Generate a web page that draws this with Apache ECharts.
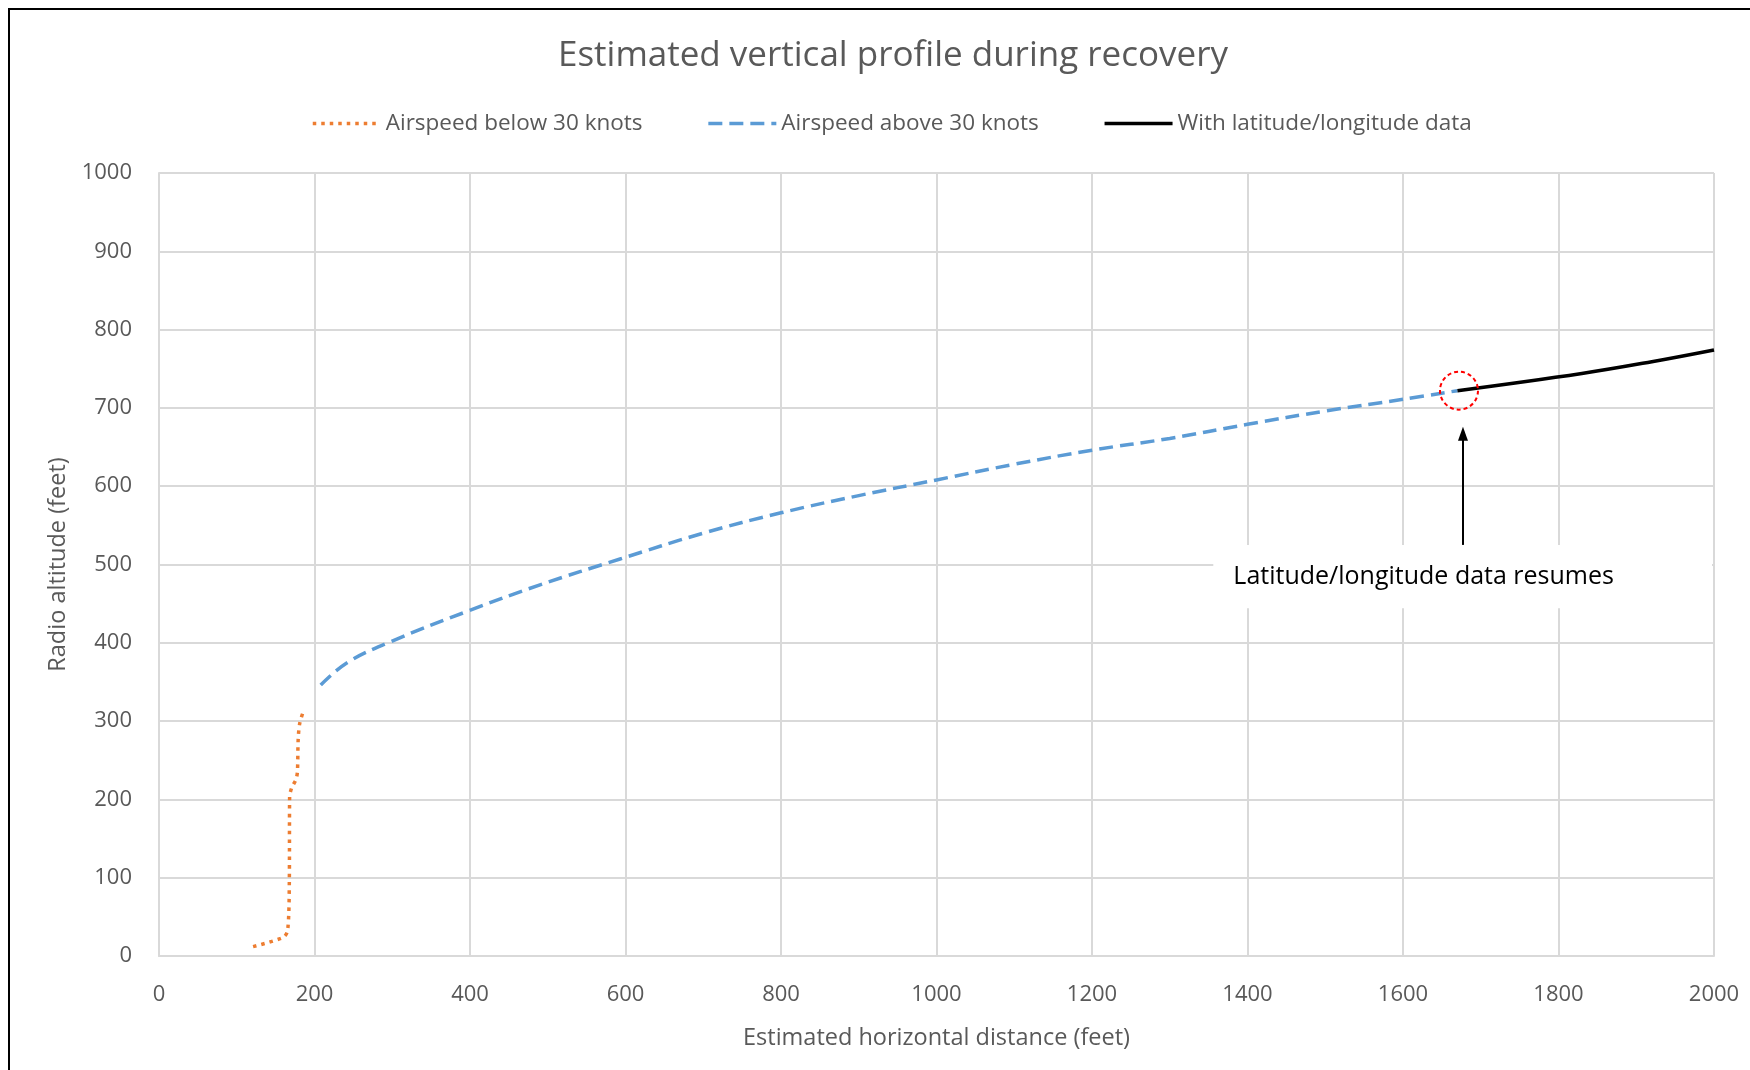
<!DOCTYPE html>
<html>
<head>
<meta charset="utf-8">
<script src="https://cdn.jsdelivr.net/npm/echarts@6/dist/echarts.min.js"></script>
<style>
  html, body { margin: 0; padding: 0; background: #fff; }
  #chart { width: 1750px; height: 1070px; }
</style>
</head>
<body>
<div id="chart"></div>
<script>
// 数据
var seriesNames = ['Airspeed below 30 knots', 'Airspeed above 30 knots', 'With latitude/longitude data'];
var slowPts = [[121, 12], [160, 24], [165.5, 33], [167.6, 93], [168, 203], [170.7, 215], [176, 225], [178, 235], [179, 276], [181, 297], [186.5, 315]];
var fastPts = [[208, 346], [241, 374], [297, 401], [396, 440], [490, 474], [593, 507], [700, 540], [800, 566], [900, 588], [1000, 608], [1100, 628], [1200, 646], [1300, 661], [1400, 679], [1500, 696], [1600, 711], [1670, 722]];
var gpsPts = [[1670, 722], [1830, 744], [1920, 759], [2000, 774]];
var resumePt = [1672, 722];
var noteText = 'Latitude/longitude data resumes';

var grey = '#595959';
var font = '"Open Sans", "Noto Sans", sans-serif';

var myChart = echarts.init(document.getElementById('chart'));

var option = {
    backgroundColor: '#fff',
    animation: false,
    title: {
        text: 'Estimated vertical profile during recovery',
        left: 888,
        textAlign: 'center',
        top: 34,
        textStyle: { fontFamily: font, fontSize: 35, fontWeight: 'normal', color: grey }
    },
    legend: {
        top: 107,
        left: 306,
        itemWidth: 68,
        itemHeight: 14,
        itemGap: 64,
        itemStyle: { opacity: 0 },
        lineStyle: { width: 3.5 },
        textStyle: { fontFamily: font, fontSize: 22.5, color: grey },
        data: seriesNames
    },
    grid: { left: 159, right: 36, top: 173, bottom: 114 },
    xAxis: {
        type: 'value',
        min: 0, max: 2000, interval: 200,
        name: 'Estimated horizontal distance (feet)',
        nameLocation: 'middle',
        nameGap: 70,
        nameTextStyle: { fontFamily: font, fontSize: 23.5, color: grey },
        axisLine: { show: true, lineStyle: { color: '#d9d9d9', width: 2 } },
        axisTick: { show: false },
        axisLabel: { fontFamily: font, fontSize: 22, color: grey, margin: 28, formatter: function (v) { return String(v); } },
        splitLine: { show: true, lineStyle: { color: '#d9d9d9', width: 2 } }
    },
    yAxis: {
        type: 'value',
        min: 0, max: 1000, interval: 100,
        name: 'Radio altitude (feet)',
        nameLocation: 'middle',
        nameGap: 87,
        nameTextStyle: { fontFamily: font, fontSize: 23.5, color: grey },
        axisLine: { show: true, lineStyle: { color: '#d9d9d9', width: 2 } },
        axisTick: { show: false },
        axisLabel: { fontFamily: font, fontSize: 22, color: grey, margin: 27, formatter: function (v) { return String(v); } },
        splitLine: { show: true, lineStyle: { color: '#d9d9d9', width: 2 } }
    },
    series: [
        {
            name: seriesNames[0],
            type: 'line',
            data: slowPts,
            symbol: 'none',
            smooth: 0.3,
            lineStyle: { color: '#ED7D31', width: 3.5, type: [3.5, 5] },
            itemStyle: { color: '#ED7D31' }
        },
        {
            name: seriesNames[1],
            type: 'line',
            data: fastPts,
            symbol: 'none',
            smooth: 0.4,
            lineStyle: { color: '#5B9BD5', width: 3.5, type: [14, 7] },
            itemStyle: { color: '#5B9BD5' }
        },
        {
            name: seriesNames[2],
            type: 'line',
            data: gpsPts,
            symbol: 'none',
            smooth: 0.4,
            lineStyle: { color: '#000', width: 3.5 },
            itemStyle: { color: '#000' }
        }
    ]
};

myChart.setOption(option);

// 注释：圆圈、箭头、文字框
var c = myChart.convertToPixel({ gridIndex: 0 }, resumePt);
var boxTL = myChart.convertToPixel({ gridIndex: 0 }, [1356, 525]);
var boxBR = myChart.convertToPixel({ gridIndex: 0 }, [2000, 444]);
var arrowX = c[0] + 4;

myChart.setOption({
    graphic: [
        {
            type: 'rect',
            shape: { x: 9, y: 9, width: 1800, height: 1200 },
            style: { fill: 'none', stroke: '#000', lineWidth: 2 },
            z: 100
        },
        {
            type: 'rect',
            shape: { x: boxTL[0], y: boxTL[1], width: boxBR[0] - boxTL[0] - 2, height: boxBR[1] - boxTL[1] },
            style: { fill: '#fff' },
            z: 50
        },
        {
            type: 'text',
            x: (boxTL[0] + 1636) / 2 - 1,
            y: (boxTL[1] + boxBR[1]) / 2,
            style: {
                text: noteText,
                font: '25px ' + font,
                fill: '#000',
                align: 'center',
                verticalAlign: 'middle'
            },
            z: 51
        },
        {
            type: 'circle',
            shape: { cx: c[0], cy: c[1], r: 19 },
            style: { fill: 'none', stroke: '#FF0000', lineWidth: 2, lineDash: [4, 3] },
            z: 60
        },
        {
            type: 'line',
            shape: { x1: arrowX, y1: boxTL[1], x2: arrowX, y2: c[1] + 48 },
            style: { stroke: '#000', lineWidth: 2 },
            z: 60
        },
        {
            type: 'polygon',
            shape: { points: [[arrowX, c[1] + 36], [arrowX - 5, c[1] + 50], [arrowX + 5, c[1] + 50]] },
            style: { fill: '#000' },
            z: 60
        }
    ]
});
</script>
</body>
</html>
